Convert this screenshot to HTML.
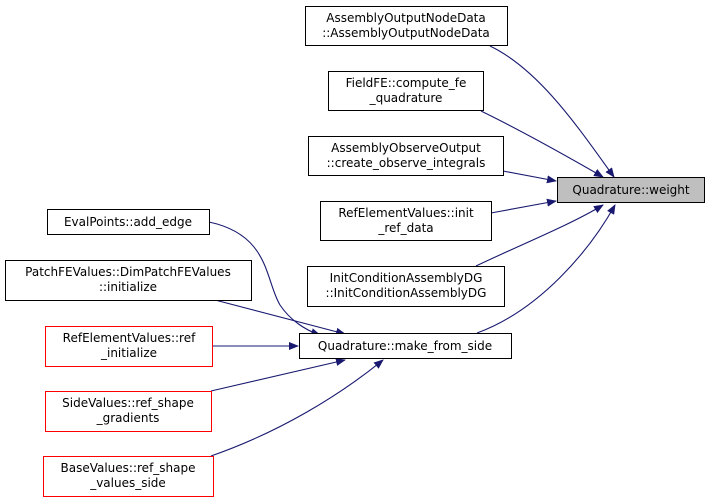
<!DOCTYPE html>
<html><head><meta charset="utf-8"><style>
html,body{margin:0;padding:0;background:#fff;}
svg{display:block;}
text{font-family:"DejaVu Sans","Liberation Sans",sans-serif;font-size:12px;fill:#000;}
</style></head><body>
<svg width="709" height="503" viewBox="0 0 709 503" xmlns="http://www.w3.org/2000/svg">
<defs>
<marker id="a" markerWidth="10" markerHeight="8" refX="9" refY="4" orient="auto" markerUnits="userSpaceOnUse">
<path d="M0,0 L10,4 L0,8 z" fill="#191970"/>
</marker>
</defs>
<g fill="none" stroke="#191970" stroke-width="1.1">
<path d="M490,46 C540,70 580,130 614,177" marker-end="url(#a)"/>
<path d="M481,111 C520,130 570,158 603,177" marker-end="url(#a)"/>
<path d="M503,171 L556,181" marker-end="url(#a)"/>
<path d="M491,213 L556,201" marker-end="url(#a)"/>
<path d="M476,266 C520,245 570,225 603,205" marker-end="url(#a)"/>
<path d="M477,333 C540,310 590,250 615,205" marker-end="url(#a)"/>
<path d="M209,222 C270,235 265,280 280,305 C290,320 305,330 320,335" marker-end="url(#a)"/>
<path d="M215,300 L345,334" marker-end="url(#a)"/>
<path d="M212,346 L298,346" marker-end="url(#a)"/>
<path d="M211,391 L345,360" marker-end="url(#a)"/>
<path d="M211,456 C280,432 340,395 383,360" marker-end="url(#a)"/>
</g>
<g stroke-width="1" fill="#fff">
<rect x="305.5" y="6.5" width="202" height="39" stroke="#000"/>
<rect x="328.5" y="71.5" width="155" height="39" stroke="#000"/>
<rect x="308.5" y="136.5" width="195" height="39" stroke="#000"/>
<rect x="557.5" y="177.5" width="147" height="25" stroke="#000" fill="#bfbfbf"/>
<rect x="320.5" y="201.5" width="171" height="39" stroke="#000"/>
<rect x="307.5" y="266.5" width="197" height="40" stroke="#000"/>
<rect x="47.5" y="209.5" width="162" height="25" stroke="#000"/>
<rect x="5.5" y="260.5" width="246" height="40" stroke="#000"/>
<rect x="45.5" y="326.5" width="167" height="40" stroke="#f00"/>
<rect x="299.5" y="333.5" width="212" height="25" stroke="#000"/>
<rect x="45.5" y="391.5" width="166" height="40" stroke="#f00"/>
<rect x="43.5" y="456.5" width="170" height="40" stroke="#f00"/>
</g>
<g text-anchor="middle">
<text x="406" y="22">AssemblyOutputNodeData</text><text x="406" y="37">::AssemblyOutputNodeData</text>
<text x="406" y="87">FieldFE::compute_fe</text><text x="406" y="102">_quadrature</text>
<text x="406" y="152">AssemblyObserveOutput</text><text x="406" y="167">::create_observe_integrals</text>
<text x="631" y="194">Quadrature::weight</text>
<text x="406" y="217">RefElementValues::init</text><text x="406" y="232">_ref_data</text>
<text x="406" y="282">InitConditionAssemblyDG</text><text x="406" y="297">::InitConditionAssemblyDG</text>
<text x="128" y="226">EvalPoints::add_edge</text>
<text x="128" y="276">PatchFEValues::DimPatchFEValues</text><text x="128" y="291">::initialize</text>
<text x="129" y="342">RefElementValues::ref</text><text x="129" y="357">_initialize</text>
<text x="405" y="350">Quadrature::make_from_side</text>
<text x="128" y="407">SideValues::ref_shape</text><text x="128" y="422">_gradients</text>
<text x="128" y="472">BaseValues::ref_shape</text><text x="128" y="487">_values_side</text>
</g>
</svg>
</body></html>
